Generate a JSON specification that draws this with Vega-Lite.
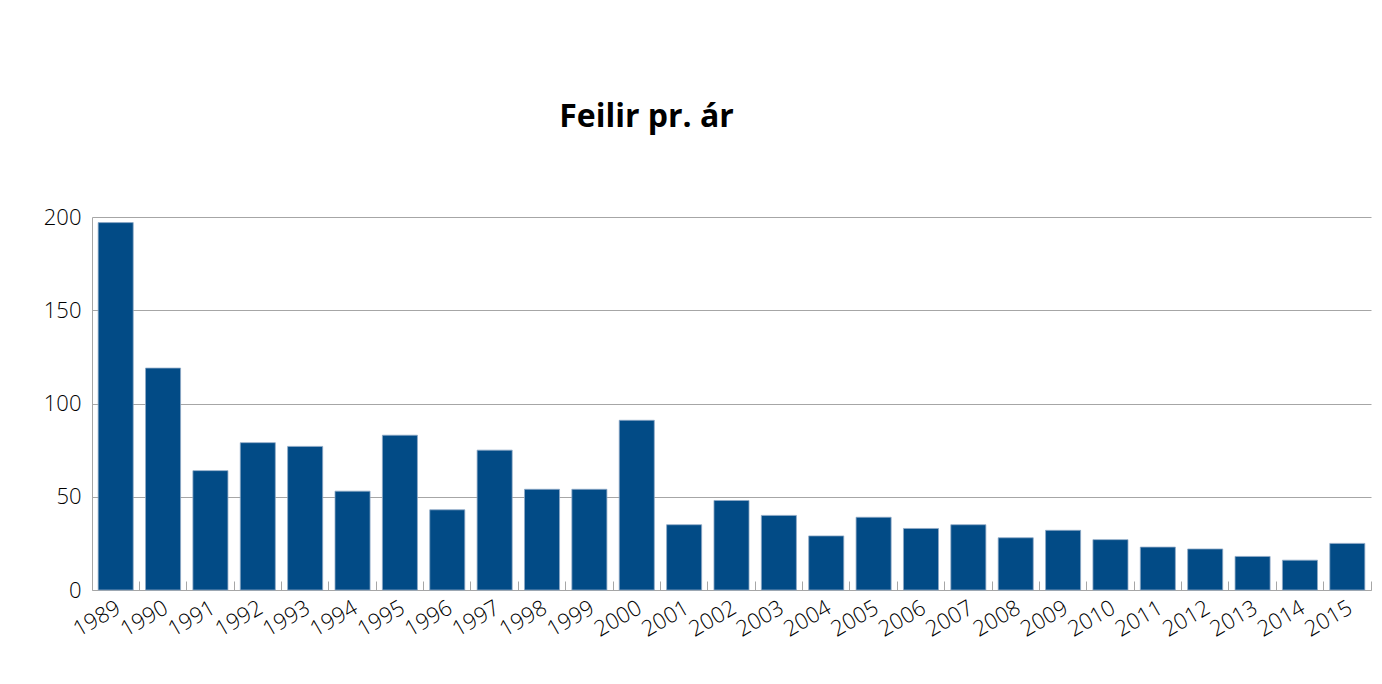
{
  "$schema": "https://vega.github.io/schema/vega-lite/v6.json",
  "width": 1279,
  "height": 373,
  "padding": {"left": 43, "top": 101, "right": 11, "bottom": 10},
  "background": "white",
  "title": {
    "text": "Feilir pr. ár",
    "font": "Open Sans",
    "fontSize": 32,
    "fontWeight": "bold",
    "color": "#000000",
    "anchor": "middle",
    "frame": "group",
    "dx": -85,
    "offset": 72
  },
  "data": {
    "values": [
      {"ar": "1989", "feilir": 197},
      {"ar": "1990", "feilir": 119},
      {"ar": "1991", "feilir": 64},
      {"ar": "1992", "feilir": 79},
      {"ar": "1993", "feilir": 77},
      {"ar": "1994", "feilir": 53},
      {"ar": "1995", "feilir": 83},
      {"ar": "1996", "feilir": 43},
      {"ar": "1997", "feilir": 75},
      {"ar": "1998", "feilir": 54},
      {"ar": "1999", "feilir": 54},
      {"ar": "2000", "feilir": 91},
      {"ar": "2001", "feilir": 35},
      {"ar": "2002", "feilir": 48},
      {"ar": "2003", "feilir": 40},
      {"ar": "2004", "feilir": 29},
      {"ar": "2005", "feilir": 39},
      {"ar": "2006", "feilir": 33},
      {"ar": "2007", "feilir": 35},
      {"ar": "2008", "feilir": 28},
      {"ar": "2009", "feilir": 32},
      {"ar": "2010", "feilir": 27},
      {"ar": "2011", "feilir": 23},
      {"ar": "2012", "feilir": 22},
      {"ar": "2013", "feilir": 18},
      {"ar": "2014", "feilir": 16},
      {"ar": "2015", "feilir": 25}
    ]
  },
  "mark": {"type": "bar", "color": "#024b86", "stroke": "#8fa9c6", "strokeWidth": 0.8},
  "encoding": {
    "x": {
      "field": "ar",
      "type": "ordinal",
      "scale": {"paddingInner": 0.26, "paddingOuter": 0.13},
      "axis": {
        "title": null,
        "labelAngle": -30,
        "labelAlign": "right",
        "labelBaseline": "top",
        "labelFont": "Open Sans",
        "labelFontWeight": 300,
        "labelFontSize": 22,
        "labelColor": "#000000",
        "labelPadding": 16,
        "labelOffset": -2,
        "bandPosition": 1.176,
        "tickSize": -9,
        "tickColor": "#a6a6a6",
        "domainColor": "#a6a6a6",
        "grid": false
      }
    },
    "y": {
      "field": "feilir",
      "type": "quantitative",
      "scale": {"domain": [0, 200]},
      "axis": {
        "title": null,
        "values": [0, 50, 100, 150, 200],
        "labelFont": "Open Sans",
        "labelFontWeight": 300,
        "labelFontSize": 22,
        "labelColor": "#000000",
        "labelPadding": 11,
        "ticks": false,
        "domainColor": "#a6a6a6",
        "gridColor": "#a6a6a6",
        "gridOpacity": 1
      }
    }
  },
  "config": {"view": {"stroke": null}}
}
